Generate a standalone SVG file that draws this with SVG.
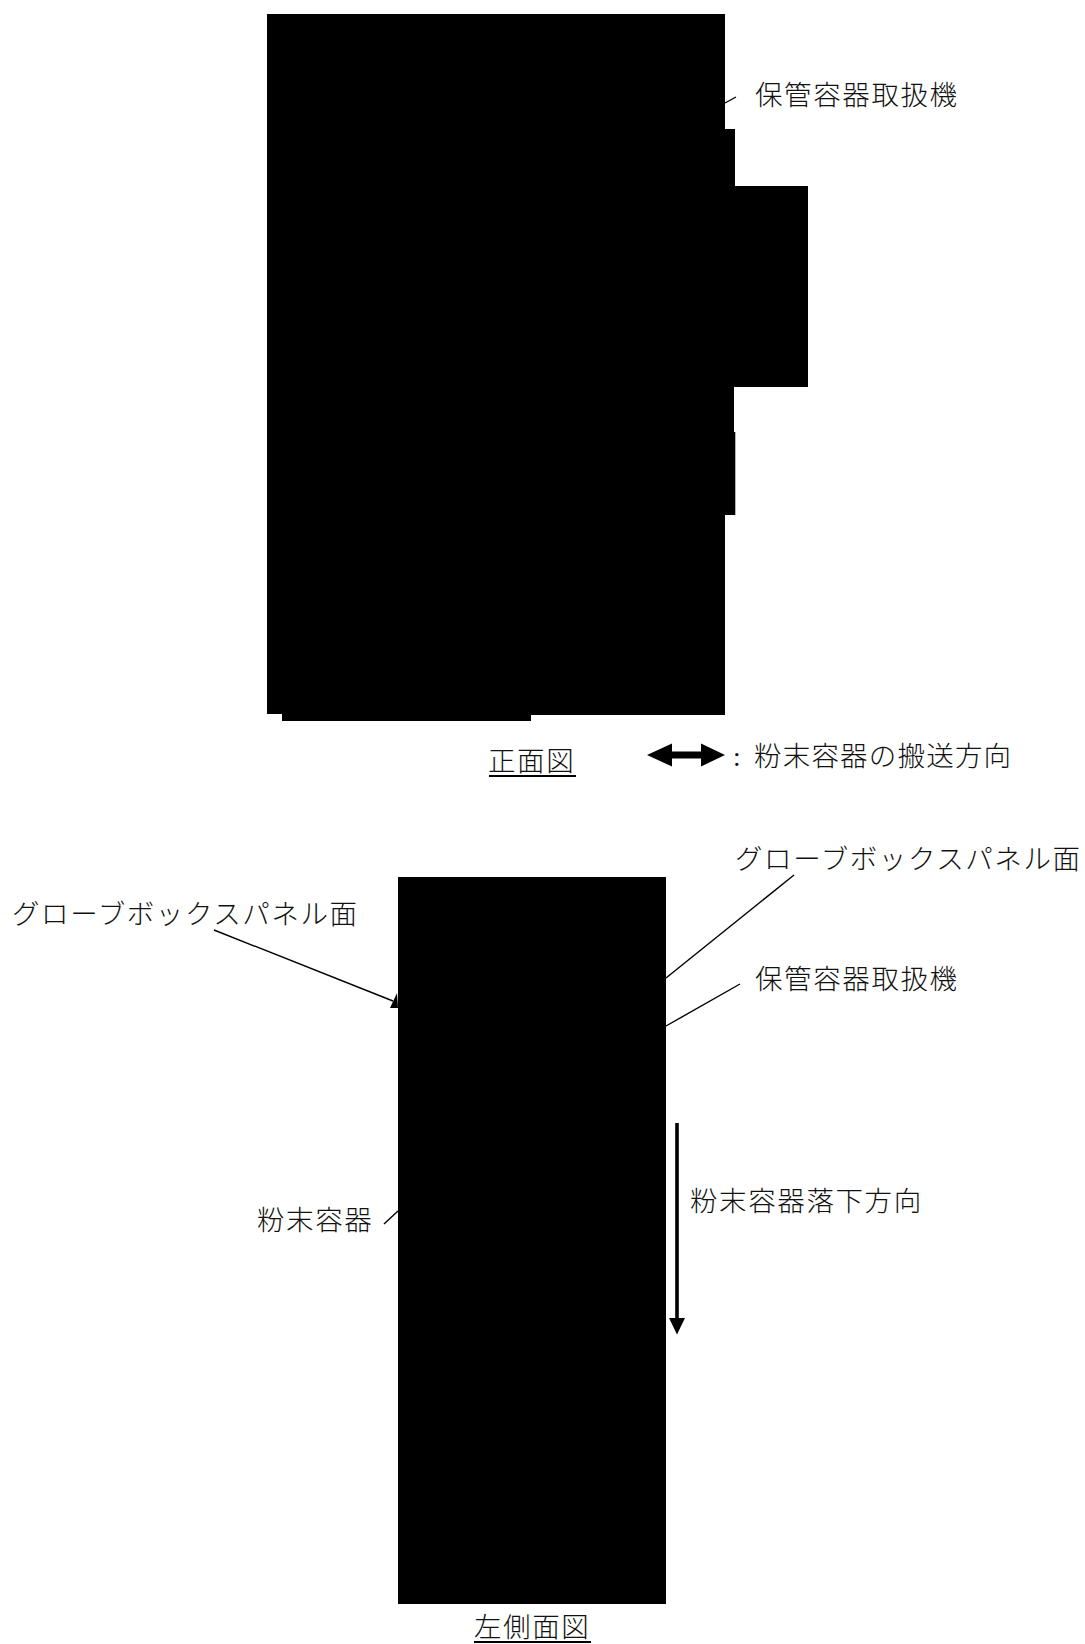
<svg xmlns="http://www.w3.org/2000/svg" width="1085" height="1644" viewBox="0 0 1085 1644">
<style>
text{font-family:"Liberation Serif","Noto Sans CJK JP",serif;font-size:27.5px;letter-spacing:1.6px;fill:#111;font-weight:300}
.l{stroke:#000;stroke-width:1.4;fill:none}
.u{stroke:#000;stroke-width:2;fill:none}
.f{fill:#000}
</style>
<rect width="1085" height="1644" fill="#fff"/>
<g id="front-view"><path class="f" d="M267 14H725V129H735V186H808V387H734V432H735.3V515H725V715H531V721H282V714H267Z"/></g>
<g id="side-view"><rect class="f" x="398" y="877" width="268" height="727"/></g>
<g id="connectors">
<line class="l" x1="725" y1="103" x2="736" y2="97"/>
<line class="l" x1="794" y1="875" x2="666" y2="978"/>
<line class="l" x1="740" y1="984" x2="666" y2="1026"/>
<line class="l" x1="214" y1="930" x2="393" y2="1001"/>
<path class="f" d="M397 993L390 1008H398Z"/>
<line class="l" x1="384" y1="1224" x2="398" y2="1211"/>
<rect class="f" x="675.2" y="1123" width="3.6" height="196"/>
<path class="f" d="M669 1318H685L677 1334.500Z"/>
<path class="f" d="M647 755L672 743.500V751.500H701V743.500L725 755L701 766.500V758.500H672V766.500Z"/>
<line class="u" x1="489" y1="776" x2="576" y2="776"/>
<line class="u" x1="474" y1="1642" x2="591" y2="1642"/>
</g>
<g id="label-handler-front"><text x="755" y="105">保管容器取扱機</text></g>
<g id="label-front"><text x="488" y="771">正面図</text></g>
<g id="label-direction"><text x="733" y="766">: <tspan x="754" style="letter-spacing:1.2px">粉末容器の搬送方向</tspan></text></g>
<g id="label-panel-left"><text x="12" y="924">グローブボックスパネル面</text></g>
<g id="label-panel-right"><text x="735" y="869">グローブボックスパネル面</text></g>
<g id="label-handler-side"><text x="755" y="989">保管容器取扱機</text></g>
<g id="label-container"><text x="257" y="1230">粉末容器</text></g>
<g id="label-fall"><text x="690" y="1211">粉末容器落下方向</text></g>
<g id="label-side"><text x="474" y="1637">左側面図</text></g>
</svg>
